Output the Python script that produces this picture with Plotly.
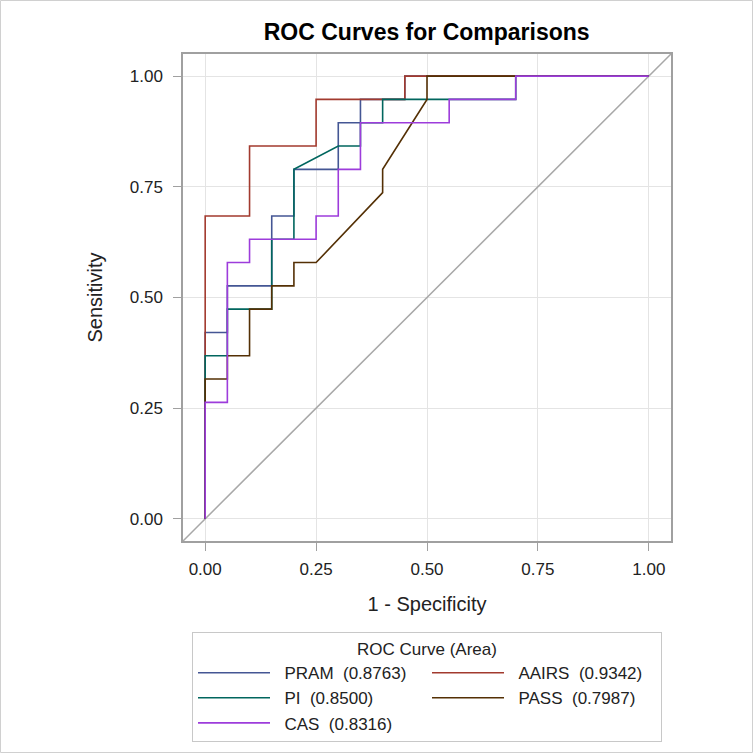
# ROC curves for the five scores, redrawn from the SAS output
import plotly.graph_objects as go

# curve names, areas and colours (SAS HTMLBlue data colours)
names = ["PRAM", "AAIRS", "PI", "PASS", "CAS"]
areas = [0.8763, 0.9342, 0.8500, 0.7987, 0.8316]
colors = ["#445694", "#A23A2E", "#01665E", "#543005", "#9D3CDB"]

# 1 - specificity / sensitivity points
pram_fpr = [0, 0, 0.05, 0.05, 0.15, 0.15, 0.2, 0.2, 0.3, 0.3, 0.35, 0.35, 0.45, 0.45, 1.0]
pram_tpr = [0, 0.4211, 0.4211, 0.5263, 0.5263, 0.6842, 0.6842, 0.7895, 0.7895,
            0.8947, 0.8947, 0.9474, 0.9474, 1.0, 1.0]

aairs_fpr = [0, 0, 0.1, 0.1, 0.25, 0.25, 0.45, 0.45, 1.0]
aairs_tpr = [0, 0.6842, 0.6842, 0.8421, 0.8421, 0.9474, 0.9474, 1.0, 1.0]

pi_fpr = [0, 0, 0.05, 0.05, 0.15, 0.15, 0.2, 0.2, 0.3, 0.35, 0.35, 0.4, 0.4, 0.7, 0.7, 1.0]
pi_tpr = [0, 0.3684, 0.3684, 0.4737, 0.4737, 0.6316, 0.6316, 0.7895, 0.8421,
          0.8421, 0.8947, 0.8947, 0.9474, 0.9474, 1.0, 1.0]

pass_fpr = [0, 0, 0.05, 0.05, 0.1, 0.1, 0.15, 0.15, 0.2, 0.2, 0.25, 0.4, 0.4, 0.5, 0.5, 1.0]
pass_tpr = [0, 0.3158, 0.3158, 0.3684, 0.3684, 0.4737, 0.4737, 0.5263, 0.5263,
            0.5789, 0.5789, 0.7368, 0.7895, 0.9474, 1.0, 1.0]

cas_fpr = [0, 0, 0.05, 0.05, 0.1, 0.1, 0.25, 0.25, 0.3, 0.3, 0.35, 0.35, 0.55, 0.55, 0.7, 0.7, 1.0]
cas_tpr = [0, 0.2632, 0.2632, 0.5789, 0.5789, 0.6316, 0.6316, 0.6842, 0.6842,
           0.7895, 0.7895, 0.8947, 0.8947, 0.9474, 0.9474, 1.0, 1.0]

# chance line runs corner to corner of the frame
diag = [-0.05, 1.05]
ticks = [0, 0.25, 0.5, 0.75, 1.0]

curves = [(pram_fpr, pram_tpr), (aairs_fpr, aairs_tpr), (pi_fpr, pi_tpr),
          (pass_fpr, pass_tpr), (cas_fpr, cas_tpr)]

FONT = "Liberation Sans, Arial, sans-serif"
NB = "\u00a0\u00a0"  # a bit of room between legend line and text

fig = go.Figure()

fig.add_trace(go.Scatter(
    x=diag, y=diag, mode="lines", showlegend=False,
    line=dict(color="#A8A8A8", width=1.5), hoverinfo="skip"
))

for (fx, ty), name, area, col in zip(curves, names, areas, colors):
    fig.add_trace(go.Scatter(
        x=fx, y=ty, mode="lines",
        name=f"{NB}{name}  ({area:.4f})",
        line=dict(color=col, width=1.6)
    ))

axis_style = dict(
    range=[-0.05, 1.05], tickvals=ticks, tickformat=".2f",
    showgrid=True, gridcolor="#E4E4E4", gridwidth=1,
    zeroline=False, showline=True, linecolor="#A0A0A0", linewidth=1.5,
    mirror=True, ticks="outside", ticklen=8, tickcolor="#A0A0A0",
    tickfont=dict(family=FONT, size=17, color="#222222"),
)

fig.update_layout(
    width=753, height=753,
    margin=dict(l=183, r=82, t=54, b=212, autoexpand=False),
    paper_bgcolor="white", plot_bgcolor="white",
    title=dict(text="<b>ROC Curves for Comparisons</b>", x=(426.7 / 753), xanchor="center",
               y=1 - 31.7 / 753, yanchor="middle",
               font=dict(family=FONT, size=23, color="black")),
    xaxis=dict(axis_style, ticklabelstandoff=4,
               title=dict(text="1 - Specificity", standoff=19,
                          font=dict(family=FONT, size=20, color="#222222"))),
    yaxis=dict(axis_style, ticklabelstandoff=7,
               title=dict(text="Sensitivity", standoff=22,
                          font=dict(family=FONT, size=20, color="#222222"))),
    legend=dict(
        orientation="h", x=0.5, xanchor="center", y=-0.187, yanchor="top",
        title=dict(text="ROC Curve (Area)", side="top center",
                   font=dict(family=FONT, size=17, color="#222222")),
        font=dict(family=FONT, size=17, color="#222222"),
        itemwidth=72, entrywidth=147, tracegroupgap=0,
        bordercolor="#C8C8C8", borderwidth=1, bgcolor="white",
    ),
    showlegend=True,
)

# thin light border round the whole picture
fig.add_shape(type="rect", xref="paper", yref="paper",
              x0=(0.5 - 183) / 488, x1=(752.5 - 183) / 488,
              y0=(541 - 752.5) / 487, y1=(541 - 0.5) / 487,
              line=dict(color="#D0D0D0", width=1), layer="below")

# the page body has a default 8px margin; drop it so the figure sits at 0,0
fig.write_html("out.html", config={"displayModeBar": False},
               post_script="document.body.style.margin='0';")
